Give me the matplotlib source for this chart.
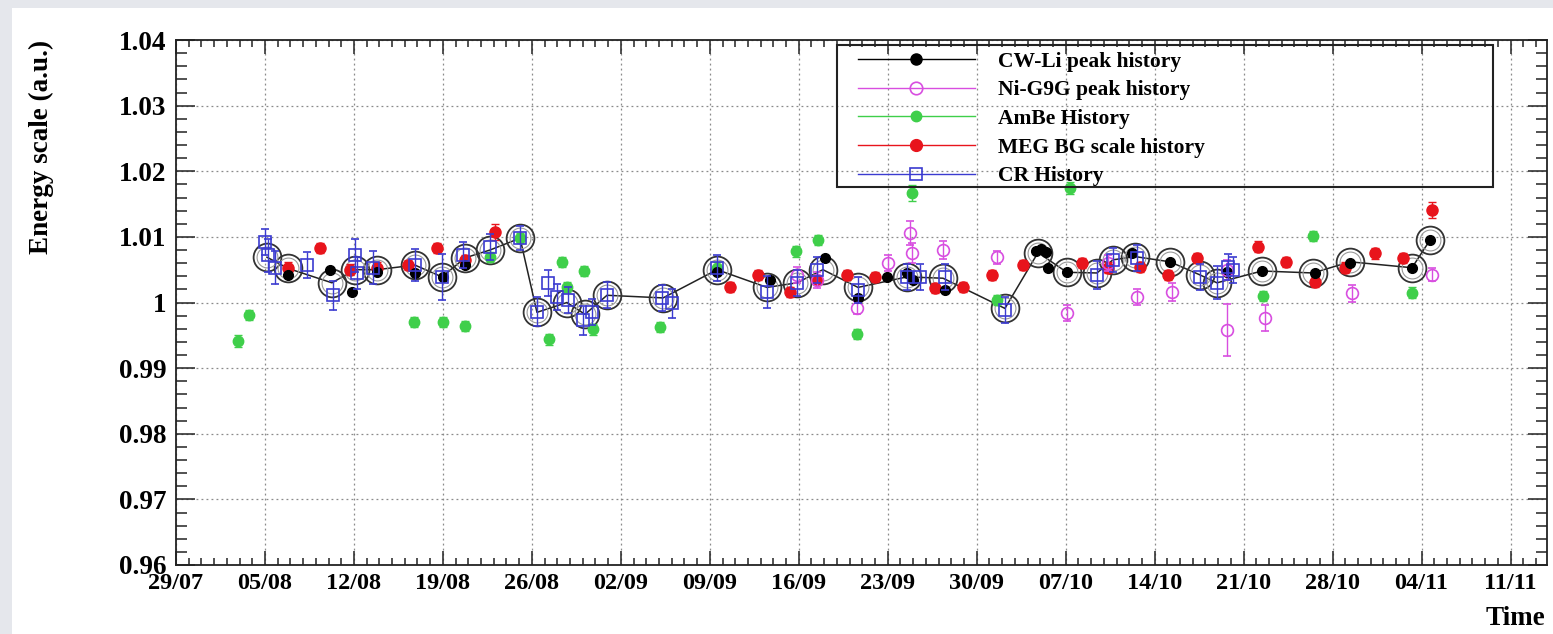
import matplotlib
matplotlib.use("Agg")
import matplotlib.pyplot as plt
from matplotlib.ticker import MultipleLocator, FuncFormatter
from matplotlib.lines import Line2D
from matplotlib.patches import Rectangle
from datetime import date, timedelta

plt.rcParams['font.family'] = 'Liberation Serif'
plt.rcParams['font.weight'] = 'bold'
plt.rcParams['axes.labelweight'] = 'bold'

START = date(2021, 7, 29)   # day 0 of the time axis

# CW-Li peak (black dots)
cwli_day = [8.81, 12.12, 13.85, 15.81, 18.80, 21.01, 22.74, 42.57, 46.73, 51.06, 53.66, 55.94,
            57.51, 57.99, 60.50, 67.66, 68.06, 68.45, 68.61, 70.10, 75.22, 78.21, 82.69, 85.44,
            89.61, 92.37, 97.25, 98.66]
cwli_val = [1.0042, 1.0050, 1.0016, 1.0046, 1.0045, 1.0039, 1.0057, 1.0046, 1.0034, 1.0068, 1.0007, 1.0039,
            1.0045, 1.0034, 1.0019, 1.0079, 1.0082, 1.0077, 1.0053, 1.0046, 1.0075, 1.0062, 1.0046, 1.0048,
            1.0045, 1.0060, 1.0053, 1.0095]
cwli_err = [0.0003] * len(cwli_day)

# Ni-G9G peak (magenta open circles)
ni_day = [48.86, 50.43, 53.58, 56.02, 57.75, 57.91, 60.35, 64.59, 70.10, 73.33, 75.61, 78.36,
          82.69, 82.69, 85.68, 92.53, 98.82]
ni_val = [1.0042, 1.0034, 0.9992, 1.0060, 1.0106, 1.0075, 1.0080, 1.0069, 0.9984, 1.0060, 1.0008, 1.0016,
          0.9958, 1.0050, 0.9976, 1.0014, 1.0042]
ni_err = [0.0012, 0.0012, 0.0010, 0.0012, 0.0018, 0.0015, 0.0013, 0.0010, 0.0012, 0.0012, 0.0012, 0.0014,
          0.0040, 0.0015, 0.0020, 0.0013, 0.0010]

# AmBe (green)
ambe_day = [4.88, 5.74, 18.73, 21.01, 22.74, 24.71, 27.07, 29.35, 30.37, 30.76, 32.10, 32.81,
            38.08, 42.57, 48.78, 50.51, 53.58, 57.91, 64.59, 70.34, 85.52, 89.46, 97.25]
ambe_val = [0.9941, 0.9981, 0.9970, 0.9970, 0.9964, 1.0069, 1.0098, 0.9944, 1.0062, 1.0024, 1.0048, 0.9959,
            0.9963, 1.0053, 1.0078, 1.0095, 0.9952, 1.0167, 1.0004, 1.0175, 1.0010, 1.0101, 1.0015]
ambe_err = [0.0009, 0.0008, 0.0008, 0.0008, 0.0008, 0.0008, 0.0008, 0.0008, 0.0008, 0.0008, 0.0008, 0.0008,
            0.0008, 0.0008, 0.0008, 0.0008, 0.0008, 0.0012, 0.0008, 0.0009, 0.0008, 0.0008, 0.0008]

# MEG BG scale (red)
meg_day = [8.81, 11.33, 13.69, 15.81, 18.25, 20.54, 22.74, 25.10, 43.59, 45.79, 48.31, 50.43,
           52.79, 54.99, 59.72, 61.92, 64.20, 66.64, 71.28, 73.33, 75.85, 78.05, 80.33, 85.13,
           87.33, 89.61, 91.97, 94.33, 96.54, 98.82]
meg_val = [1.0053, 1.0083, 1.0050, 1.0053, 1.0057, 1.0083, 1.0065, 1.0107, 1.0024, 1.0042, 1.0016, 1.0034,
           1.0042, 1.0039, 1.0022, 1.0024, 1.0042, 1.0057, 1.0060, 1.0053, 1.0054, 1.0042, 1.0068, 1.0085,
           1.0062, 1.0031, 1.0053, 1.0075, 1.0068, 1.0141]
meg_err = [0.0008] * 7 + [0.0012] + [0.0008] * 21 + [0.0012]

# Cosmic rays (blue open squares)
cr_day = [7.00, 7.24, 7.79, 10.31, 12.35, 14.08, 14.24, 15.50, 18.80, 20.93, 22.58, 24.71,
          27.07, 28.40, 29.27, 29.98, 30.84, 32.02, 32.73, 33.91, 38.24, 39.03, 42.57, 46.50,
          48.86, 50.43, 53.66, 57.51, 58.54, 60.50, 65.22, 72.46, 73.72, 75.61, 80.57, 81.90,
          82.77, 83.16]
cr_val = [1.0092, 1.0072, 1.0053, 1.0057, 1.0011, 1.0072, 1.0045, 1.0053, 1.0057, 1.0039, 1.0072, 1.0085,
          1.0098, 0.9986, 1.0030, 1.0008, 1.0004, 0.9973, 0.9986, 1.0011, 1.0007, 0.9999, 1.0053, 1.0016,
          1.0030, 1.0050, 1.0019, 1.0039, 1.0039, 1.0039, 0.9989, 1.0042, 1.0065, 1.0068, 1.0039, 1.0030,
          1.0054, 1.0050]
cr_err = [0.0020, 0.0025, 0.0025, 0.0020, 0.0022, 0.0025, 0.0025, 0.0025, 0.0025, 0.0035, 0.0020, 0.0020,
          0.0018, 0.0022, 0.0020, 0.0020, 0.0020, 0.0022, 0.0020, 0.0020, 0.0020, 0.0022, 0.0020, 0.0025,
          0.0020, 0.0020, 0.0020, 0.0020, 0.0020, 0.0020, 0.0020, 0.0022, 0.0018, 0.0020, 0.0020, 0.0025,
          0.0020, 0.0020]

# combined history (line with big open circles)
comb_day = [7.16, 8.81, 12.27, 14.08, 15.81, 18.80, 20.93, 22.74, 24.71, 27.07, 28.40, 30.76,
            32.18, 33.91, 38.32, 42.57, 46.50, 48.86, 50.90, 53.66, 57.51, 60.35, 65.22, 67.82,
            70.10, 72.46, 73.72, 75.45, 78.21, 80.57, 81.90, 85.44, 89.46, 92.37, 97.25, 98.66]
comb_val = [1.0069, 1.0052, 1.0030, 1.0050, 1.0050, 1.0057, 1.0039, 1.0068, 1.0080, 1.0098, 0.9985, 1.0000,
            0.9982, 1.0011, 1.0007, 1.0050, 1.0023, 1.0030, 1.0050, 1.0023, 1.0039, 1.0037, 0.9991, 1.0076,
            1.0046, 1.0045, 1.0065, 1.0070, 1.0062, 1.0042, 1.0030, 1.0048, 1.0045, 1.0062, 1.0053, 1.0095]

labels = ["CW-Li peak history", "Ni-G9G peak history", "AmBe History",
          "MEG BG scale history", "CR History"]
C_MAG = '#d84ee0'
C_GRN = '#3fcf4a'
C_RED = '#e8141c'
C_BLU = '#3b3bd0'

fig = plt.figure(figsize=(15.53, 6.34), dpi=100, facecolor='#e5e7ec')
fig.patches.append(Rectangle((12 / 1553, 0), 1, 1 - 8 / 634, transform=fig.transFigure,
                             facecolor='white', edgecolor='none', zorder=-1))
ax = fig.add_axes([176 / 1553, 1 - 565 / 634, 1371 / 1553, 525 / 634])

ax.plot(comb_day, comb_val, '-', color='#222222', lw=1.1, zorder=2)
ax.plot(comb_day, comb_val, 'o', ms=20, mfc='none', mec='#333333', mew=1.3, zorder=2)
ax.plot(comb_day, comb_val, 'o', ms=15, mfc='none', mec='#9a9a9a', mew=0.8, zorder=2)

eb = dict(capsize=3, elinewidth=1, capthick=1, ls='none')
ax.errorbar(ambe_day, ambe_val, yerr=ambe_err, fmt='o', color=C_GRN, ms=7.5, zorder=3, **eb)
ax.errorbar(meg_day, meg_val, yerr=meg_err, fmt='o', color=C_RED, ms=8, zorder=3, **eb)
ax.errorbar(cwli_day, cwli_val, yerr=cwli_err, fmt='o', color='black', ms=7, zorder=4, **eb)
ax.errorbar(ni_day, ni_val, yerr=ni_err, fmt='o', color=C_MAG, ms=8.5, mfc='none', mew=1.2,
            zorder=4, **eb)
ax.errorbar(cr_day, cr_val, yerr=cr_err, fmt='s', color=C_BLU, ms=8.5, mfc='none', mew=1.2,
            zorder=5, **eb)

ax.set_xlim(0, 107.87)
ax.set_ylim(0.96, 1.04)

ax.xaxis.set_major_locator(MultipleLocator(7))
ax.xaxis.set_minor_locator(MultipleLocator(1))
ax.xaxis.set_major_formatter(FuncFormatter(
    lambda v, p: (START + timedelta(days=round(v))).strftime('%d/%m')))
ax.yaxis.set_major_locator(MultipleLocator(0.01))
ax.yaxis.set_minor_locator(MultipleLocator(0.002))
ax.yaxis.set_major_formatter(FuncFormatter(lambda v, p: '%g' % round(v, 4)))

ax.tick_params(which='both', direction='in', top=True, right=True, width=1.1, color='#222222')
ax.tick_params(axis='x', which='major', length=10, pad=6, labelsize=17.5)
ax.tick_params(axis='x', which='minor', length=5)
ax.tick_params(axis='y', which='major', length=14, pad=7, labelsize=19.5)
ax.tick_params(axis='y', which='minor', length=8)
for s in ax.spines.values():
    s.set_linewidth(1.3)
    s.set_color('#222222')

ax.grid(True, which='major', color='#8a8a8a', ls=(0, (1.5, 2.5)), lw=0.9)
ax.set_axisbelow(True)

ax.set_ylabel("Energy scale (a.u.)", fontsize=19.5, loc='top')
ax.yaxis.set_label_coords(-0.089, 1.0)
ax.set_xlabel("Time", fontsize=19.5, loc='right')
ax.xaxis.set_label_coords(0.9985, -0.078)

# legend: transparent entries, with the box drawn as its own patch
handles = [
    Line2D([], [], color='black', marker='o', ms=8, lw=1),
    Line2D([], [], color=C_MAG, marker='o', ms=9, mfc='none', mew=1.2, lw=1),
    Line2D([], [], color=C_GRN, marker='o', ms=7.5, lw=1),
    Line2D([], [], color=C_RED, marker='o', ms=8.5, lw=1),
    Line2D([], [], color=C_BLU, marker='s', ms=9, mfc='none', mew=1.2, lw=1),
]
ax.add_patch(Rectangle((0.482, 0.72), 0.4786, 0.2705, transform=ax.transAxes, fill=False,
                       edgecolor='#222222', lw=1.5, zorder=6))
ax.legend(handles, labels, loc='upper left', bbox_to_anchor=(0.493, 0.72, 0.46, 0.2705),
          mode='expand', borderaxespad=0, frameon=False,
          prop=dict(family='Liberation Serif', weight='bold', size=15.5),
          handlelength=5.4, handletextpad=1.1, labelspacing=0.40, borderpad=0.3)

fig.savefig("out.png", dpi=100, facecolor=fig.get_facecolor())
